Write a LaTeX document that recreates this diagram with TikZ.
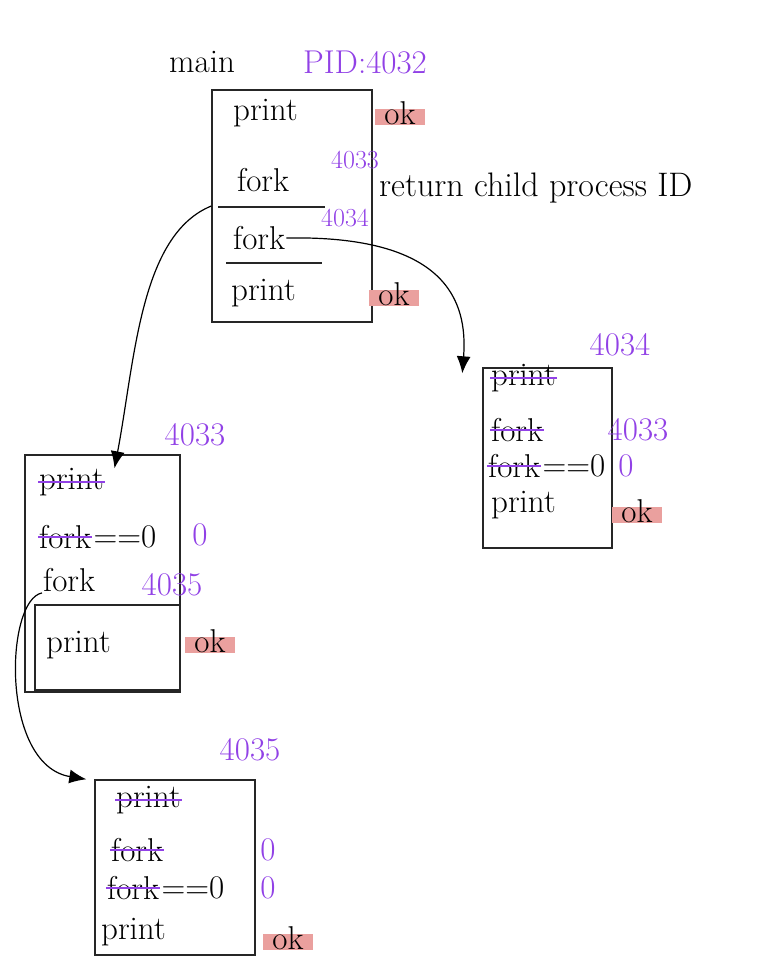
\documentclass[tikz,border=0pt]{standalone}
\usetikzlibrary{arrows.meta,positioning}
\definecolor{pidpurple}{RGB}{145,65,230}
\definecolor{hlred}{RGB}{234,160,158}

\begin{document}
\begin{tikzpicture}[x=1pt,y=-1pt,
  font=\fontsize{33}{37}\selectfont,
  procbox/.style={draw=black!85,line width=1.4pt,inner sep=0pt},
  row/.style={anchor=west,inner sep=1pt},
  struck/.style={row,append after command={(\tikzlastnode.west) edge[pidpurple,line width=1.6pt] (\tikzlastnode.east)}},
  pid/.style={text=pidpurple,inner sep=1pt},
  small/.style={pid,font=\fontsize{26}{30}\selectfont},
  okmark/.style={fill=hlred,inner xsep=9pt,inner ysep=0pt,text height=15pt,text depth=1pt},
  arrow/.style={-{Latex[length=17pt,width=14pt]},line width=1.2pt}
]
\useasboundingbox (0,0) rectangle (758,970);

% main process
\node (mainlbl) at (202,62) {main};
\node[pid] (mainpid) at (365,62) {PID:4032};
\node[procbox,minimum width=160pt,minimum height=232pt] (mainbox) at (292,206) {};
\node[row] (mprint1) at (232,113) {print};
\node[row] (mfork1) at (236,180) {fork};
\node[row] (mfork2) at (232,238) {fork};
\node[row] (mprint2) at (230,293) {print};
\draw[procbox] (218,207) -- (325,207);
\draw[procbox] (226,263) -- (322,263);
\node[okmark] (mok1) at (400,117) {ok};
\node[okmark] (mok2) at (394,298) {ok};
\node[small] (mret1) at (355,160) {4033};
\node[small] (mret2) at (345,218) {4034};
\node[row,font=\fontsize{34}{38}\selectfont] (retnote) at (378,188) {return child process ID};

% child 4034
\node[pid] (lbl4034) at (620,345) {4034};
\node[procbox,minimum width=129pt,minimum height=180pt] (box4034) at (547.5,458) {};
\node[struck] (bprint1) at (490,378) {print};
\node[struck] (bfork1) at (490,430) {fork};
\node[struck] (bfork2) at (487,466) {fork};
\node[row,right=0pt of bfork2] (beq) {==0};
\node[row] (bprint2) at (490,505) {print};
\node[pid] (bret1) at (638,430) {4033};
\node[pid] (bret2) at (626,466) {0};
\node[okmark] (bok) at (637,515) {ok};

% child 4033
\node[pid] (lbl4033) at (195,435) {4033};
\node[procbox,minimum width=155pt,minimum height=237pt] (box4033) at (102.5,573.5) {};
\node[procbox,minimum width=145pt,minimum height=85pt] (inner4033) at (107.5,647.5) {};
\node[struck] (cprint1) at (38,482) {print};
\node[struck] (cfork1) at (38,537) {fork};
\node[row,right=0pt of cfork1] (ceq) {==0};
\node[row] (cfork2) at (42,580) {fork};
\node[row] (cprint2) at (45,645) {print};
\node[pid] (cret1) at (200,535) {0};
\node[pid] (cret2) at (172,585) {4035};
\node[okmark] (cok) at (210,645) {ok};

% grandchild 4035
\node[pid] (lbl4035) at (250,750) {4035};
\node[procbox,minimum width=160pt,minimum height=175pt] (box4035) at (175,867.5) {};
\node[struck] (dprint1) at (115,800) {print};
\node[struck] (dfork1) at (110,850) {fork};
\node[struck] (dfork2) at (106,888) {fork};
\node[row,right=0pt of dfork2] (deq) {==0};
\node[row] (dprint2) at (100,932) {print};
\node[pid] (dret1) at (268,850) {0};
\node[pid] (dret2) at (268,888) {0};
\node[okmark] (dok) at (288,942) {ok};

% fork arrows
\draw[arrow] (mainbox.west) .. controls (140,235) and (135,360) .. ([xshift=12pt,yshift=-14pt]box4033.north);
\draw[arrow] (mfork2.east) .. controls (445,235) and (468,300) .. ([xshift=-20pt,yshift=-6pt]box4034.north west);
\draw[arrow] (cfork2.south west) .. controls (5,600) and (0,765) .. ([xshift=-8pt]box4035.north west);
\end{tikzpicture}
\end{document}
